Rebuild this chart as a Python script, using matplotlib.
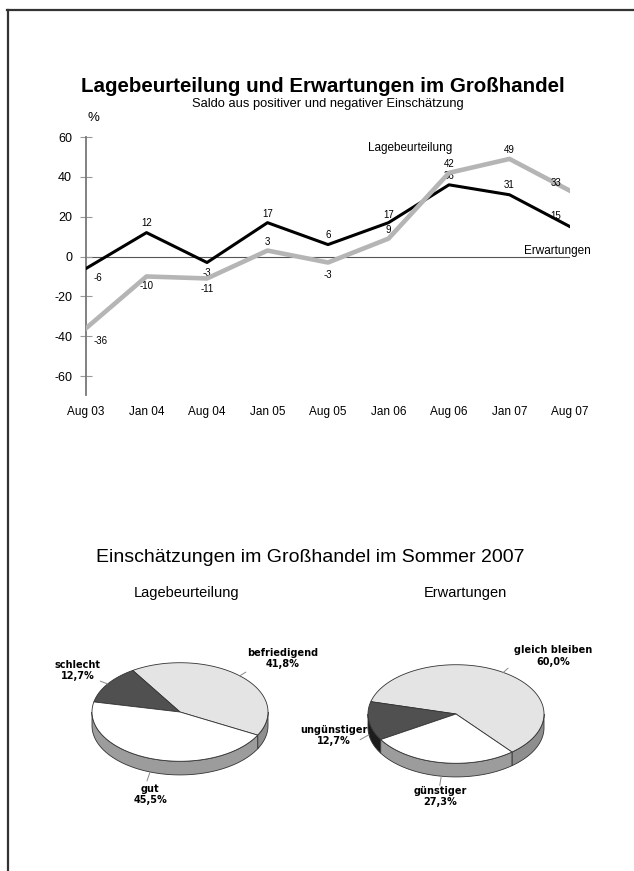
import numpy as np
import matplotlib

matplotlib.use("Agg")

import matplotlib.pyplot as plt  # noqa: E402
from matplotlib.lines import Line2D  # noqa: E402

plt.rcParams["font.family"] = ["Liberation Sans", "DejaVu Sans"]
plt.rcParams["axes.unicode_minus"] = False

# --- data -----------------------------------------------------------------
periods = ["Aug 03", "Jan 04", "Aug 04", "Jan 05", "Aug 05", "Jan 06", "Aug 06", "Jan 07", "Aug 07"]
erwartungen = [-6, 12, -3, 17, 6, 17, 36, 31, 15]
lagebeurteilung = [-36, -10, -11, 3, -3, 9, 42, 49, 33]

lage_cats = ["befriedigend", "schlecht", "gut"]
lage_vals = [41.8, 12.7, 45.5]
erw_cats = ["gleich bleiben", "ungünstiger", "günstiger"]
erw_vals = [60.0, 12.7, 27.3]

# label offsets (pixels, up = positive) for the value annotations
erw_off = [(12, -10), (0, 10), (0, -10), (0, 9), (0, 10), (0, 8), (0, 9), (0, 10), (-14, 11)]
lage_off = [(15, -13), (0, -10), (0, -11), (0, 9), (0, -12), (0, 9), (0, 9), (0, 9), (-14, 8)]

W, H = 634, 871
EDGE = "#333333"


def px_box(x0, y0, x1, y1):
    """pixel box (top-left origin) -> figure fraction rect"""
    return [x0 / W, 1 - y1 / H, (x1 - x0) / W, (y1 - y0) / H]


def pie3d(ax, values, tops, sides, start, tilt=0.56, depth=0.155):
    total = sum(values)
    edges = start + 360 * np.concatenate([[0], np.cumsum(values)]) / total
    # rim (only the front half is visible)
    for a0, a1, side in zip(edges[:-1], edges[1:], sides):
        for k in (-1, 0, 1):
            lo, hi = max(a0, 180 + 360 * k), min(a1, 360 + 360 * k)
            if hi > lo:
                t = np.radians(np.linspace(lo, hi, 80))
                x, y = np.cos(t), tilt * np.sin(t)
                ax.fill(np.r_[x, x[::-1]], np.r_[y, y[::-1] - depth], fc=side, ec=EDGE, lw=0.6)
    # top faces
    for a0, a1, top in zip(edges[:-1], edges[1:], tops):
        t = np.radians(np.linspace(a0, a1, 120))
        ax.fill(np.r_[0, np.cos(t)], np.r_[0, tilt * np.sin(t)], fc=top, ec=EDGE, lw=0.6)
    return edges


def leader(ax, ang, tilt=0.56, depth=0.155):
    t = np.radians(ang)
    dy = -depth if np.sin(t) < 0 else 0.0
    ax.plot([np.cos(t), 1.1 * np.cos(t)], [tilt * np.sin(t) + dy, 1.1 * tilt * np.sin(t) + dy * 1.3],
            color="#888888", lw=0.7)


fig = plt.figure(figsize=(W / 100, H / 100), dpi=100)

# page frame
fig.add_artist(Line2D([7 / W, 1], [1 - 10 / H] * 2, color="#333333", lw=1.6))
fig.add_artist(Line2D([8 / W] * 2, [1 - 10 / H, 0], color="#333333", lw=1.6))

# --- line chart -------------------------------------------------------------
fig.text(323 / W, 1 - 87 / H, "Lagebeurteilung und Erwartungen im Großhandel",
         ha="center", va="center", fontsize=14.8, weight="bold")
fig.text(328 / W, 1 - 104 / H, "Saldo aus positiver und negativer Einschätzung",
         ha="center", va="center", fontsize=9.3)
fig.text(93 / W, 1 - 118 / H, "%", ha="center", va="center", fontsize=9.5)

ax = fig.add_axes(px_box(86, 137, 570, 395))
x = np.arange(len(periods))
ax.axhline(0, color="#555555", lw=0.8, zorder=1)
ax.plot(x, erwartungen, color="black", lw=2.2, zorder=3)
ax.plot(x, lagebeurteilung, color="#b5b5b5", lw=3.3, zorder=4)
for xi, v, off in zip(x, erwartungen, erw_off):
    ax.annotate(f"{v}", (xi, v), xytext=off, textcoords="offset pixels",
                ha="center", va="center", fontsize=7, zorder=2)
for xi, v, off in zip(x, lagebeurteilung, lage_off):
    ax.annotate(f"{v}", (xi, v), xytext=off, textcoords="offset pixels",
                ha="center", va="center", fontsize=7, zorder=5)
ax.text(6.06, 54.5, "Lagebeurteilung", ha="right", va="center", fontsize=8.5)
ax.text(8.35, 3, "Erwartungen", ha="right", va="center", fontsize=8.5, clip_on=False)

ax.set_xlim(0, 8)
ax.set_ylim(-69.5, 60)
ax.set_yticks(range(-60, 61, 20))
ax.set_xticks(x, periods)
for s in ("top", "right", "bottom"):
    ax.spines[s].set_visible(False)
ax.spines["left"].set_color("#777777")
ax.spines["left"].set_linewidth(1.3)
ax.tick_params(axis="y", direction="inout", length=8, color="#999999", labelsize=9, pad=6)
ax.tick_params(axis="x", length=0, labelsize=8.5, pad=8)
ax.patch.set_alpha(0)

# --- pie charts -------------------------------------------------------------
fig.text(310 / W, 1 - 558 / H, "Einschätzungen im Großhandel im Sommer 2007",
         ha="center", va="center", fontsize=14)
fig.text(187 / W, 1 - 593 / H, "Lagebeurteilung", ha="center", va="center", fontsize=10.5)
fig.text(465 / W, 1 - 593 / H, "Erwartungen", ha="center", va="center", fontsize=10.5)

lab = dict(ha="center", va="center", fontsize=7, weight="bold", linespacing=1.15,
           family=["DejaVu Sans"])

# left pie, centre (180, 712) px, 88 px radius
axl = fig.add_axes(px_box(48, 632, 312, 812))
e = pie3d(axl, lage_vals, ["#e4e4e4", "#505050", "#ffffff"], ["#8e8e8e", "#303030", "#9c9c9c"], -28)
mids = (e[:-1] + e[1:]) / 2
for m in mids:
    leader(axl, m)
lpos = [(1.17, 0.61), (-1.16, 0.47), (-0.34, -0.94)]
for c, v, (lx, ly) in zip(lage_cats, lage_vals, lpos):
    axl.text(lx, ly, f"{c}\n{v:.1f}%".replace(".", ","), **lab)
axl.set_xlim(-1.5, 1.5)
axl.set_ylim(-100 / 88, 80 / 88)
axl.axis("off")

# right pie, centre (456, 714) px
axr = fig.add_axes(px_box(324, 634, 588, 814))
e = pie3d(axr, erw_vals, ["#e4e4e4", "#505050", "#ffffff"], ["#8e8e8e", "#1c1c1c", "#9c9c9c"], -50.5)
mids = (e[:-1] + e[1:]) / 2
for m in mids:
    leader(axr, m)
rpos = [(1.10, 0.66), (-1.39, -0.24), (-0.18, -0.94)]
for c, v, (lx, ly) in zip(erw_cats, erw_vals, rpos):
    axr.text(lx, ly, f"{c}\n{v:.1f}%".replace(".", ","), **lab)
axr.set_xlim(-1.5, 1.5)
axr.set_ylim(-100 / 88, 80 / 88)
axr.axis("off")

fig.savefig("out.png", dpi=100)
plt.close(fig)
